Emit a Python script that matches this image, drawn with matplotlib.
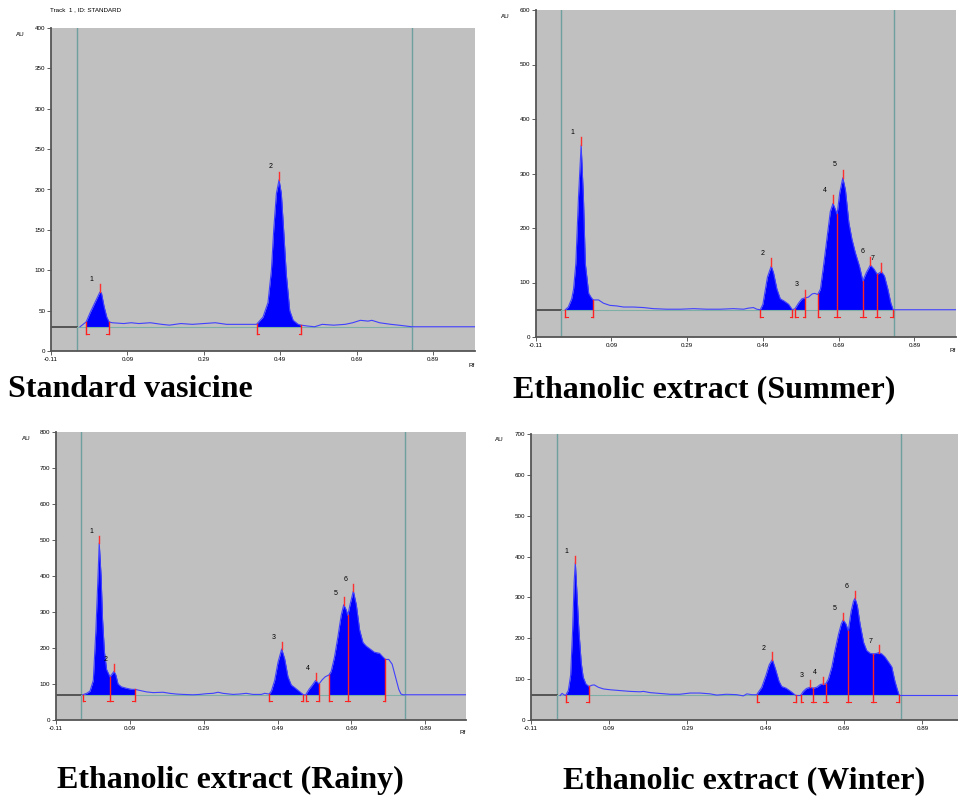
import numpy as np
import matplotlib.pyplot as plt

# ---- data (Rf, AU) ----
# Standard vasicine
std_rf = [-0.034, -0.018, -0.008, 0.005, 0.018, 0.022, 0.029, 0.036, 0.042, 0.05, 0.08, 0.10, 0.12, 0.15,
          0.18, 0.20, 0.23, 0.26, 0.29, 0.32, 0.35, 0.38, 0.41, 0.428, 0.445, 0.458, 0.467, 0.473, 0.480,
          0.487, 0.493, 0.499, 0.506, 0.515, 0.524, 0.537, 0.545, 0.56, 0.58, 0.60, 0.63, 0.66, 0.68, 0.70,
          0.72, 0.73, 0.75, 0.78, 0.80, 0.835, 1.0]
std_au = [30, 36, 47, 60, 73, 72, 55, 42, 36, 35, 34, 35, 34, 35,
          33, 32, 34, 33, 34, 35, 33, 33, 33, 33, 42, 60, 100, 150, 195,
          212, 195, 150, 95, 50, 38, 33, 32, 31, 30, 33, 32, 33, 35, 38,
          37, 38, 35, 33, 32, 30, 30]
std_base = 30
std_peak_rf = [0.018, 0.487]
std_peak_au = [73, 212]
std_bounds = [(-0.018, 0.042), (0.428, 0.545)]

# Ethanolic extract (Summer)
sum_rf = [-0.032, -0.024, -0.015, -0.010, -0.004, 0.003, 0.010, 0.016, 0.021, 0.030, 0.037, 0.042,
          0.056, 0.069, 0.086, 0.104, 0.122, 0.148, 0.175, 0.201, 0.236, 0.272, 0.307, 0.342, 0.377, 0.412,
          0.439, 0.452, 0.465, 0.474, 0.483, 0.490, 0.496, 0.502, 0.512, 0.518, 0.527, 0.536, 0.546, 0.558,
          0.568, 0.575, 0.584, 0.593, 0.602, 0.610, 0.620, 0.627, 0.635, 0.642, 0.650, 0.659, 0.668, 0.675,
          0.681, 0.686, 0.693, 0.701, 0.708, 0.717, 0.725, 0.734, 0.745, 0.754, 0.763, 0.774, 0.783, 0.792,
          0.803, 0.811, 0.820, 0.828, 0.834, 1.0]
sum_au = [50, 55, 70, 88, 135, 257, 352, 257, 135, 80, 72, 68,
          68, 62, 58, 57, 55, 55, 54, 52, 51, 51, 52, 51, 51, 52,
          51, 53, 54, 51, 50, 60, 85, 110, 130, 118, 88, 70, 66, 60,
          50, 52, 62, 70, 72, 73, 79, 80, 78, 88, 130, 180, 230, 245,
          235, 225, 265, 292, 270, 210, 180, 155, 130, 103, 118, 132, 125, 115,
          120, 112, 88, 62, 50, 50]
sum_base = 50
sum_peak_rf = [0.010, 0.512, 0.602, 0.675, 0.701, 0.774, 0.803]
sum_peak_au = [352, 130, 72, 245, 292, 132, 120]
sum_bounds = [(-0.032, 0.042), (0.483, 0.568), (0.575, 0.602), (0.635, 0.686),
              (0.686, 0.754), (0.754, 0.792), (0.792, 0.834)]

# Ethanolic extract (Rainy)
rai_rf = [-0.038, -0.027, -0.018, -0.009, -0.002, 0.003, 0.007, 0.012, 0.016, 0.021, 0.027, 0.036, 0.042,
          0.047, 0.052, 0.058, 0.067, 0.081, 0.095, 0.104, 0.117, 0.135, 0.153, 0.180, 0.198, 0.216, 0.234,
          0.261, 0.279, 0.297, 0.315, 0.329, 0.342, 0.369, 0.387, 0.405, 0.423, 0.446, 0.455, 0.467, 0.473,
          0.482, 0.491, 0.501, 0.509, 0.518, 0.527, 0.536, 0.548, 0.560, 0.566, 0.575, 0.584, 0.593, 0.602,
          0.611, 0.619, 0.629, 0.635, 0.644, 0.653, 0.662, 0.669, 0.676, 0.680, 0.686, 0.695, 0.703, 0.712,
          0.721, 0.730, 0.743, 0.752, 0.766, 0.775, 0.782, 0.791, 0.800, 0.809, 0.818, 0.824, 0.830, 1.0]
rai_au = [70, 74, 80, 110, 250, 380, 491, 400, 280, 190, 140, 120, 128,
          135, 125, 100, 92, 88, 85, 85, 82, 78, 76, 77, 74, 72, 71,
          70, 71, 73, 74, 77, 74, 71, 72, 74, 71, 71, 74, 72, 80,
          110, 160, 197, 170, 120, 97, 90, 80, 70, 70, 85, 97, 110, 100,
          112, 120, 125, 135, 175, 230, 290, 320, 305, 290, 320, 358, 320, 250,
          215, 205, 195, 188, 185, 175, 168, 168, 155, 120, 85, 72, 70, 70]
rai_base = 70
rai_peak_rf = [0.007, 0.047, 0.501, 0.593, 0.669, 0.695]
rai_peak_au = [491, 135, 197, 110, 320, 358]
rai_bounds = [(-0.038, 0.036), (0.036, 0.104), (0.467, 0.560), (0.566, 0.602),
              (0.629, 0.680), (0.680, 0.782)]

# Ethanolic extract (Winter)
win_rf = [-0.035, -0.030, -0.025, -0.021, -0.014, -0.008, -0.003, 0.001, 0.004, 0.007, 0.013, 0.019, 0.024,
          0.031, 0.039, 0.046, 0.052, 0.063, 0.076, 0.093, 0.118, 0.144, 0.169, 0.178, 0.195, 0.220, 0.246,
          0.271, 0.297, 0.322, 0.348, 0.365, 0.390, 0.416, 0.433, 0.442, 0.454, 0.467, 0.480, 0.491, 0.499,
          0.507, 0.515, 0.524, 0.531, 0.542, 0.554, 0.567, 0.579, 0.586, 0.594, 0.603, 0.612, 0.620, 0.630,
          0.637, 0.643, 0.650, 0.659, 0.667, 0.676, 0.683, 0.688, 0.695, 0.701, 0.708, 0.714, 0.718, 0.724,
          0.731, 0.740, 0.748, 0.757, 0.765, 0.773, 0.779, 0.786, 0.794, 0.805, 0.812, 0.820, 0.826, 0.831, 1.0]
win_au = [60, 65, 62, 60, 72, 110, 220, 340, 385, 330, 220, 140, 105,
          88, 82, 85, 86, 80, 76, 74, 72, 70, 69, 70, 67, 65, 63,
          63, 66, 66, 64, 61, 63, 62, 59, 64, 62, 62, 80, 110, 135,
          148, 125, 95, 82, 78, 70, 60, 60, 70, 77, 80, 78, 80, 87,
          88, 88, 100, 130, 170, 210, 235, 245, 235, 218, 265, 290, 298, 280,
          235, 190, 170, 163, 162, 163, 165, 162, 155, 140, 130, 95, 75, 60, 60]
win_base = 60
win_peak_rf = [0.004, 0.507, 0.603, 0.637, 0.688, 0.718, 0.779]
win_peak_au = [385, 148, 80, 88, 245, 298, 165]
win_bounds = [(-0.021, 0.039), (0.467, 0.567), (0.579, 0.612), (0.612, 0.643),
              (0.643, 0.701), (0.701, 0.765), (0.765, 0.831)]

captions = ["Standard vasicine", "Ethanolic extract (Summer)",
            "Ethanolic extract (Rainy)", "Ethanolic extract (Winter)"]
x_ticks = [-0.11, 0.09, 0.29, 0.49, 0.69, 0.89]
x_ticklabels = ["-0.11", "0.09", "0.29", "0.49", "0.69", "0.89"]

W, H = 958, 796
fig = plt.figure(figsize=(W / 100, H / 100), dpi=100)
plt.rcParams['font.family'] = ['Liberation Sans', 'DejaVu Sans']


def px_axes(left, top, right, bottom):
    return fig.add_axes([left / W, 1 - bottom / H, (right - left) / W, (bottom - top) / H])


def chromatogram(ax, rf, au, base, peak_rf, peak_au, bounds, ymax, ystep):
    rf = np.array(rf)
    au = np.array(au)
    ax.set_facecolor('#c0c0c0')
    ax.set_xlim(-0.11, 1.0)
    ax.set_ylim(0, ymax)
    for s in ['top', 'right']:
        ax.spines[s].set_visible(False)
    for s in ['left', 'bottom']:
        ax.spines[s].set_color('#555555')
        ax.spines[s].set_linewidth(1.3)
    ax.set_xticks(x_ticks)
    ax.set_xticklabels(x_ticklabels)
    ax.set_yticks(np.arange(0, ymax + 1, ystep))
    ax.tick_params(labelsize=4.5, length=3, width=0.6, color='#444444', pad=1)

    # start / front lines and baseline
    ax.axvline(-0.042, color='#6f9f9f', lw=1.0)
    ax.axvline(0.836, color='#6f9f9f', lw=1.0)
    ax.plot([-0.11, -0.042], [base, base], color='#555555', lw=1.4)
    ax.plot([-0.042, 0.836], [base, base], color='#7fb0a8', lw=0.8)

    # filled peak areas
    for a, b in bounds:
        m = (rf >= a - 1e-6) & (rf <= b + 1e-6)
        ax.fill_between(rf[m], base, au[m], color='#0000ff', lw=0)
    ax.plot(rf, au, color='#4040ff', lw=0.8)

    # integration limits
    d = 0.022 * ymax
    foot = 0.007
    edges = sorted(set([v for ab in bounds for v in ab]))
    starts = [ab[0] for ab in bounds]
    ends = [ab[1] for ab in bounds]
    for e in edges:
        top = np.interp(e, rf, au)
        ax.plot([e, e], [base - d, top], color='#ff2020', lw=1.0)
        x0 = e - foot if e in ends else e
        x1 = e + foot if e in starts else e
        ax.plot([x0, x1], [base - d, base - d], color='#ff2020', lw=0.8)

    # peak maxima and numbers
    for i, (p, h) in enumerate(zip(peak_rf, peak_au)):
        ax.plot([p, p], [h, h + 0.025 * ymax], color='#ff3030', lw=1.0)
        ax.text(p - 0.022, h + 0.04 * ymax, str(i + 1), fontsize=5, ha='center', va='center')


ax1 = px_axes(51, 28, 475, 351)
chromatogram(ax1, std_rf, std_au, std_base, std_peak_rf, std_peak_au, std_bounds, 400, 50)
ax2 = px_axes(535.7, 10, 956, 337)
chromatogram(ax2, sum_rf, sum_au, sum_base, sum_peak_rf, sum_peak_au, sum_bounds, 600, 100)
ax3 = px_axes(56, 431.7, 466, 720)
chromatogram(ax3, rai_rf, rai_au, rai_base, rai_peak_rf, rai_peak_au, rai_bounds, 800, 100)
ax4 = px_axes(530.7, 434, 965.4, 720)
chromatogram(ax4, win_rf, win_au, win_base, win_peak_rf, win_peak_au, win_bounds, 700, 100)


def ftext(x, y, s, **kw):
    fig.text(x / W, 1 - y / H, s, **kw)


ftext(50, 10, "Track  1 , ID: STANDARD", fontsize=4.5, va='center')
for x, y in [(20, 35), (505, 17), (26, 438), (499, 440)]:
    ftext(x, y, "AU", fontsize=4.5, ha='center', va='center')
for x, y in [(472, 365), (953, 351), (463, 732)]:
    ftext(x, y, "Rf", fontsize=4.5, ha='center', va='center')

cap = dict(fontsize=23, fontweight='bold', family=['Liberation Serif', 'DejaVu Serif'], va='baseline')
ftext(8, 397, captions[0], **cap)
ftext(513, 397, captions[1], **cap)
ftext(57, 788, captions[2], **cap)
ftext(563, 788, captions[3], **cap)

fig.savefig("out.png", dpi=100)
